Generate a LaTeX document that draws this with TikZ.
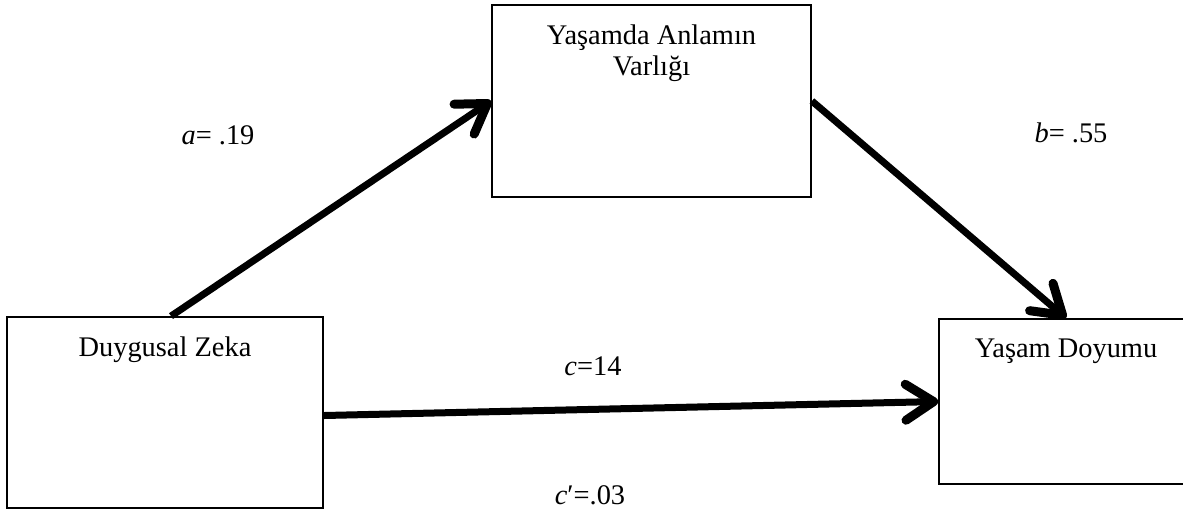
\documentclass[tikz,border=0pt]{standalone}
\usepackage{fontspec}
\setmainfont{Liberation Serif}
\usetikzlibrary{arrows.meta,positioning}

\begin{document}
\begin{tikzpicture}[
    x=0.5pt, y=-0.5pt,
    font=\fontsize{14.2}{15.8}\selectfont,
    box/.style={rectangle, draw, line width=0.9pt, inner sep=0pt},
    boxtext/.style={anchor=north, align=center, inner sep=0pt, yshift=-10pt},
    coef/.style={inner sep=0pt},
    arrow/.style={-{Straight Barb[length=14pt, width=18pt, line width=4.5pt, round]}, line width=3.5pt}
]
\clip (0,0) rectangle (1183,511);

% Variables
\node[box, minimum width=158pt, minimum height=95.5pt] (dz) at (165,412.5) {};
\node[boxtext] (dztext) at (dz.north) {Duygusal Zeka};
\node[box, minimum width=159.5pt, minimum height=96pt] (yav) at (651.5,101) {};
\node[boxtext] (yavtext) at (yav.north) {Yaşamda Anlamın\\Varlığı};
\node[box, minimum width=127pt, minimum height=82.5pt] (yd) at (1066,401.5) {};
\node[boxtext] (ydtext) at (yd.north) {Yaşam Doyumu};

% Paths
\draw[arrow] ([xshift=3pt]dz.north) -- (yav.west);
\draw[arrow] (yav.east) -- (yd.north);
\draw[arrow] ([yshift=-1.5pt]dz.east) -- (yd.west);

% Coefficients
\node[coef] (acoef) at (218,135) {\textit{a}= .19};
\node[coef] (bcoef) at (1071,133) {\textit{b}= .55};
\node[coef] (ccoef) at (593,366) {\textit{c}=14};
\node[coef] (cpcoef) at (590,495) {\textit{c}′=.03};

\end{tikzpicture}
\end{document}
